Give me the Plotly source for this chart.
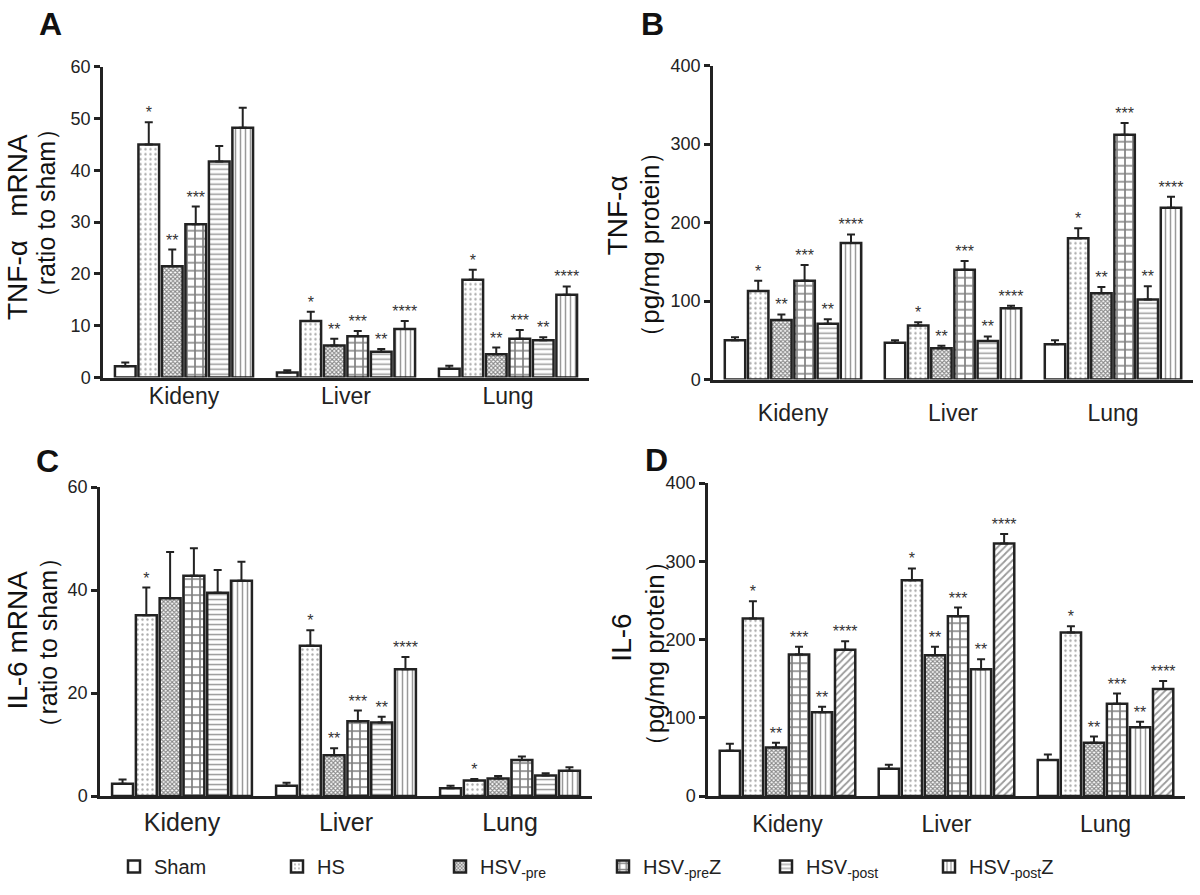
import plotly.graph_objects as go

# ---------------- data ----------------
CATEGORIES = ["Kideny", "Liver", "Lung"]
SERIES = ["Sham", "HS", "HSV<sub>-pre</sub>", "HSV<sub>-pre</sub>Z",
          "HSV<sub>-post</sub>", "HSV<sub>-post</sub>Z"]

# Panel A: TNF-a mRNA (ratio to sham); rows = series, columns = Kideny, Liver, Lung
A_MEAN = [[2.2, 1.0, 1.7], [45.0, 10.9, 18.9], [21.5, 6.2, 4.5],
          [29.6, 8.0, 7.5], [41.7, 5.0, 7.2], [48.2, 9.4, 16.0]]
A_ERR = [[0.7, 0.4, 0.6], [4.3, 1.8, 1.9], [3.2, 1.3, 1.3],
         [3.4, 1.0, 1.7], [3.0, 0.5, 0.6], [3.9, 1.5, 1.6]]
A_STARS = [["", "", ""], ["*", "*", "*"], ["**", "**", "**"],
           ["***", "***", "***"], ["", "**", "**"], ["", "****", "****"]]

# Panel B: TNF-a (pg/mg protein)
B_MEAN = [[50, 47, 45], [113, 69, 180], [76, 40, 110],
          [126, 140, 312], [71, 49, 102], [174, 91, 219]]
B_ERR = [[4, 3, 5], [13, 4, 13], [7, 3, 8],
         [20, 11, 15], [6, 6, 17], [11, 3, 14]]
B_STARS = [["", "", ""], ["*", "*", "*"], ["**", "**", "**"],
           ["***", "***", "***"], ["**", "**", "**"], ["****", "****", "****"]]

# Panel C: IL-6 mRNA (ratio to sham)
C_MEAN = [[2.4, 2.0, 1.5], [35.1, 29.2, 3.0], [38.4, 7.9, 3.4],
          [42.8, 14.5, 7.0], [39.5, 14.3, 4.0], [41.8, 24.6, 4.9]]
C_ERR = [[0.8, 0.6, 0.5], [5.4, 3.0, 0.3], [9.0, 1.4, 0.5],
         [5.3, 2.1, 0.7], [4.4, 1.1, 0.4], [3.7, 2.4, 0.7]]
C_STARS = [["", "", ""], ["*", "*", "*"], ["", "**", ""],
           ["", "***", ""], ["", "**", ""], ["", "****", ""]]

# Panel D: IL-6 (pg/mg protein)
D_MEAN = [[58, 35, 46], [227, 276, 209], [62, 180, 68],
          [181, 230, 118], [107, 162, 88], [187, 323, 137]]
D_ERR = [[9, 5, 7], [22, 15, 8], [6, 11, 8],
         [10, 11, 13], [7, 13, 7], [11, 12, 10]]
D_STARS = [["", "", ""], ["*", "*", "*"], ["**", "**", "**"],
           ["***", "***", "***"], ["**", "**", "**"], ["****", "****", "****"]]

A_TICKS = [0, 10, 20, 30, 40, 50, 60]
B_TICKS = [0, 100, 200, 300, 400]
C_TICKS = [0, 20, 40, 60]
D_TICKS = [0, 100, 200, 300, 400]

# ---------------- styles ----------------
FONT = "Arial, Liberation Sans, sans-serif"
INK = "#222222"
PAT_ABC = [None,
           dict(shape=".", size=5, solidity=0.18, fgcolor="#555"),
           dict(shape="x", size=3, solidity=0.6, fgcolor="#111"),
           dict(shape="+", size=8, solidity=0.38, fgcolor="#000"),
           dict(shape="-", size=5, solidity=0.3, fgcolor="#333"),
           dict(shape="|", size=5, solidity=0.3, fgcolor="#333")]
PAT_D = [PAT_ABC[0], PAT_ABC[1], PAT_ABC[2], PAT_ABC[3],
         dict(shape="|", size=5, solidity=0.3, fgcolor="#333"),
         dict(shape="/", size=5, solidity=0.35, fgcolor="#333")]

W, H = 1200, 895


def px_x(a, b):
    return [a / W, b / W]


def px_y(top, bottom):
    return [1 - bottom / H, 1 - top / H]


fig = go.Figure()

panels = [
    ("x", "y", A_MEAN, A_ERR, A_STARS, PAT_ABC, True),
    ("x2", "y2", B_MEAN, B_ERR, B_STARS, PAT_ABC, False),
    ("x3", "y3", C_MEAN, C_ERR, C_STARS, PAT_ABC, False),
    ("x4", "y4", D_MEAN, D_ERR, D_STARS, PAT_D, False),
]

for xa, ya, mean, err, stars, pats, show in panels:
    for i, name in enumerate(SERIES):
        marker = dict(color="white", line=dict(color=INK, width=2.5))
        if pats[i] is not None:
            p = dict(pats[i])
            p["bgcolor"] = "white"
            marker["pattern"] = p
        fig.add_trace(go.Bar(
            x=CATEGORIES, y=mean[i], name=name, xaxis=xa, yaxis=ya,
            offsetgroup=str(i), legendgroup=str(i), showlegend=show,
            marker=marker,
            error_y=dict(type="data", array=err[i], arrayminus=[0, 0, 0],
                         symmetric=False, color=INK, thickness=2, width=4),
        ))
        # star labels sit on top of the error bars (only where a star exists)
        keep = [k for k, s in enumerate(stars[i]) if s]
        fig.add_trace(go.Scatter(
            x=[CATEGORIES[k] for k in keep],
            y=[mean[i][k] + err[i][k] for k in keep],
            text=[stars[i][k] for k in keep],
            mode="text",
            textposition="top center", xaxis=xa, yaxis=ya,
            offsetgroup=str(i), showlegend=False, hoverinfo="skip",
            textfont=dict(family=FONT, size=16, color="#333"),
        ))

xcommon = dict(type="category", showline=True, linecolor=INK, linewidth=2.5,
               ticks="", showgrid=False, zeroline=False,
               categoryorder="array", categoryarray=CATEGORIES,
               tickfont=dict(family=FONT, size=23, color=INK))
ycommon = dict(showline=True, linecolor=INK, linewidth=2.5, ticks="outside",
               ticklen=6, tickwidth=2.5, tickcolor=INK, showgrid=False,
               zeroline=False, tickfont=dict(family=FONT, size=18, color=INK))

fig.update_layout(
    width=W, height=H, margin=dict(l=0, r=0, t=0, b=0),
    paper_bgcolor="white", plot_bgcolor="white",
    barmode="group", bargap=0.13, bargroupgap=0.12,
    scattermode="group", scattergap=0.13,
    xaxis=dict(xcommon, domain=px_x(103, 589), anchor="y", ticklabelstandoff=-4),
    yaxis=dict(ycommon, domain=px_y(58, 376), range=[0, 60], tickvals=A_TICKS, anchor="x"),
    xaxis2=dict(xcommon, domain=px_x(713, 1193), anchor="y2", ticklabelstandoff=11),
    yaxis2=dict(ycommon, domain=px_y(57, 378), range=[0, 400], tickvals=B_TICKS, anchor="x2"),
    xaxis3=dict(xcommon, domain=px_x(100, 592), anchor="y3", ticklabelstandoff=2,
                tickfont=dict(family=FONT, size=25, color=INK)),
    yaxis3=dict(ycommon, domain=px_y(488, 804), range=[0, 60], tickvals=C_TICKS, anchor="x3"),
    xaxis4=dict(xcommon, domain=px_x(708, 1185), anchor="y4", ticklabelstandoff=6),
    yaxis4=dict(ycommon, domain=px_y(484, 804), range=[0, 400], tickvals=D_TICKS, anchor="x4"),
    legend=dict(orientation="h", x=0.095, xanchor="left", y=1 - 876 / H, yanchor="middle",
                font=dict(family=FONT, size=20, color=INK), entrywidth=118,
                entrywidthmode="pixels", itemwidth=30, traceorder="normal",
                bgcolor="rgba(0,0,0,0)"),
    showlegend=True,
)


def ann(text, x, y, size, angle=0, bold=False):
    fig.add_annotation(text=("<b>%s</b>" % text) if bold else text,
                       x=x / W, y=1 - y / H, xref="paper", yref="paper",
                       showarrow=False, textangle=angle,
                       font=dict(family=FONT, size=size, color="#111"),
                       xanchor="center", yanchor="middle")


# panel letters
ann("A", 50, 14, 32, bold=True)
ann("B", 652, 14, 32, bold=True)
ann("C", 47, 461, 32, bold=True)
ann("D", 656, 460, 32, bold=True)

# axis titles
ann("TNF-α   mRNA", 17, 222, 28, angle=-90)
ann("（ratio to sham）", 46, 208, 25, angle=-90)
ann("TNF-α", 617, 210, 28, angle=-90)
ann("（pg/mg protein）", 650, 240, 26, angle=-90)
ann("IL-6 mRNA", 18, 645, 28, angle=-90)
ann("（ratio to sham）", 48, 647, 25, angle=-90)
ann("IL-6", 622, 642, 28, angle=-90)
ann("（pg/mg protein）", 655, 658, 26, angle=-90)

fig.write_html("out.html",
               config={"displayModeBar": False},
               post_script="document.body.style.margin='0px';"
                           "document.body.style.overflow='hidden';")
